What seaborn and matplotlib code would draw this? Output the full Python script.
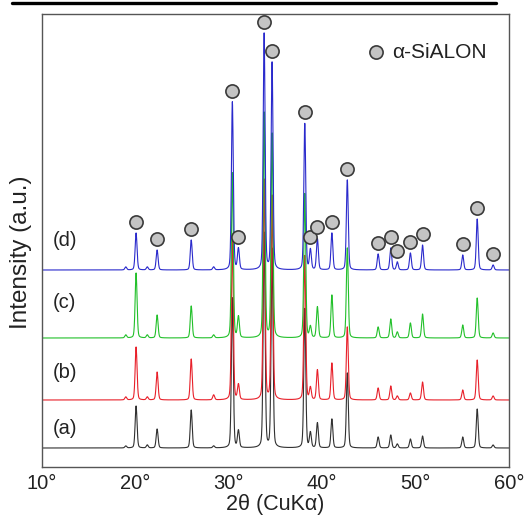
import numpy as np
import pandas as pd
import matplotlib
matplotlib.use("Agg")
import matplotlib.pyplot as plt
import seaborn as sns

# ---- data ----
peaks_2theta = [19.0, 20.1, 21.3, 22.35, 26.0, 28.4, 30.4, 31.05, 33.8, 34.65, 38.15, 38.75,
                39.5, 41.05, 42.7, 46.0, 47.35, 48.05, 49.45, 50.75, 55.05, 56.6, 58.3]
heights_a = [2, 42, 3, 19, 38, 2, 150, 17, 215, 200, 140, 15, 25, 29, 75, 11, 13, 4, 9, 12, 11, 39, 3]
heights_b = [3, 53, 3, 28, 41, 5, 160, 15, 220, 205, 145, 12, 30, 37, 73, 12, 14, 4, 7, 18, 10, 40, 4]
heights_c = [3, 65, 3, 23, 32, 3, 165, 21, 225, 205, 145, 11, 31, 43, 90, 11, 19, 6, 15, 24, 13, 40, 5]
heights_d = [3, 37, 3, 20, 30, 3, 168, 21, 236, 208, 147, 20, 31, 37, 90, 16, 22, 8, 17, 25, 15, 51, 5]
baselines = {"(a)": 19, "(b)": 67, "(c)": 129, "(d)": 197}
series_labels = ["(a)", "(b)", "(c)", "(d)"]
series_colors = ["#303030", "#e8202a", "#22c02a", "#2a2acc"]
sialon_2theta = [20.1, 22.35, 26.0, 30.4, 31.05, 33.8, 34.65, 38.15, 38.75, 39.5, 41.05, 42.7,
                 46.0, 47.35, 48.05, 49.45, 50.75, 55.05, 56.6, 58.3]
xticks = [10, 20, 30, 40, 50, 60]

heights = {"(a)": heights_a, "(b)": heights_b, "(c)": heights_c, "(d)": heights_d}

# ---- build profiles (pseudo-Voigt peaks on a flat background) ----
x = np.arange(10.0, 60.0001, 0.02)
fwhm, eta = 0.24, 0.25
def profile(x, c, h):
    d = (x - c) / (fwhm / 2)
    g = np.exp(-np.log(2) * d**2)
    l = 1.0 / (1.0 + d**2)
    return h * (eta * l + (1 - eta) * g)

rows = []
curves = {}
for lab in series_labels:
    y = np.full_like(x, baselines[lab], dtype=float)
    for c, h in zip(peaks_2theta, heights[lab]):
        y += profile(x, c, h)
    curves[lab] = y
    rows.append(pd.DataFrame({"two_theta": x, "intensity": y, "sample": lab}))
df = pd.concat(rows, ignore_index=True)

# ---- plot ----
sns.set_theme(style="white")
plt.rcParams["font.family"] = ["Liberation Sans", "DejaVu Sans"]

fig = plt.figure(figsize=(5.28, 5.16), dpi=100)
ax = fig.add_axes([41.7 / 528, 1 - 467 / 516, (509 - 41.7) / 528, (467 - 14) / 516])

for lab, col in zip(series_labels, series_colors):
    sns.lineplot(data=df[df["sample"] == lab], x="two_theta", y="intensity",
                 color=col, lw=0.8, ax=ax, legend=False)

# markers above the (d) peaks
marker_y = [np.interp(p, x, curves["(d)"]) + 11 for p in sialon_2theta]
ax.plot(sialon_2theta, marker_y, ls="none", marker="o", ms=9.5,
        mfc="#c4c4c4", mec="#3a3a3a", mew=1.2, zorder=5)

# series labels
label_y = {"(a)": 39, "(b)": 94, "(c)": 165, "(d)": 227}
for lab in series_labels:
    ax.text(11.2, label_y[lab], lab, fontsize=14.5, va="center", ha="left", color="#222222")

# legend
ax.plot([45.8], [415], ls="none", marker="o", ms=9.5, mfc="#c4c4c4", mec="#3a3a3a", mew=1.2)
ax.text(47.5, 415, "α-SiALON", fontsize=15, va="center", ha="left", color="#222222")

ax.set_xlim(10, 60)
ax.set_ylim(0, 453)
ax.set_xticks(xticks)
ax.set_xticklabels([f"{t}°" for t in xticks], fontsize=14.5, color="#222222")
ax.set_yticks([])
ax.tick_params(axis="x", direction="in", length=5, width=1, color="#333333", pad=5)
ax.set_xlabel("2θ (CuKα)", fontsize=15.5, color="#222222", labelpad=1)
ax.set_ylabel("Intensity (a.u.)", fontsize=17.5, color="#222222")
ax.yaxis.set_label_coords(-0.021, 0.475)
for s in ax.spines.values():
    s.set_color("#555555")
    s.set_linewidth(1.0)

# decorative rule across the top of the figure
fig.add_artist(plt.Line2D([12 / 528, 496 / 528], [1 - 2.5 / 516, 1 - 2.5 / 516],
                          color="black", lw=2.4, transform=fig.transFigure))

fig.savefig("out.png", dpi=100)
